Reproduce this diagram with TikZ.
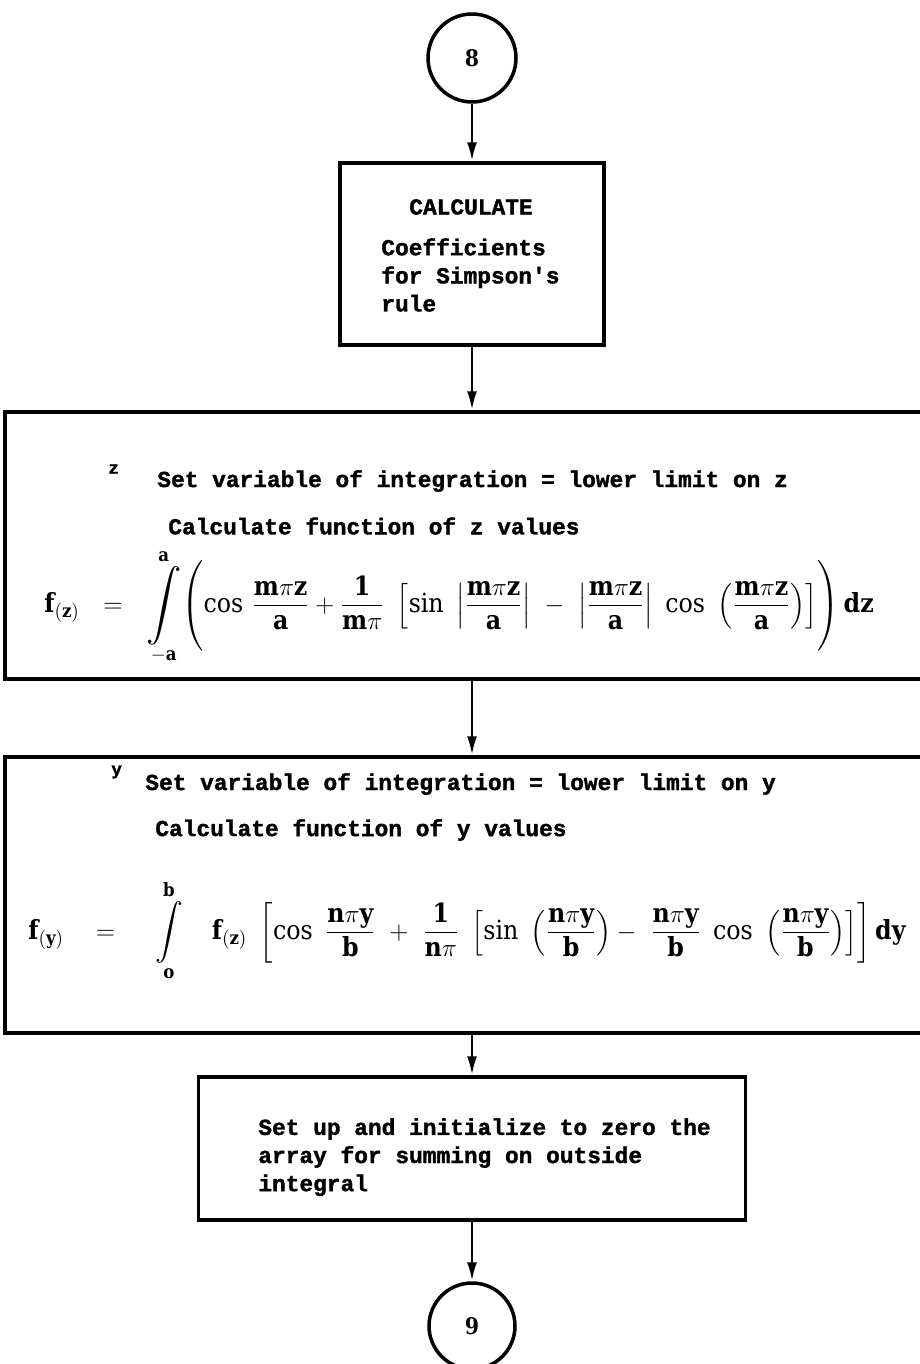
\documentclass[tikz,border=0pt]{standalone}
\usepackage{fontspec}
\usepackage{amsmath}
\usepackage{graphicx}
\setmainfont{DejaVu Serif Condensed}
\setmonofont{Liberation Mono}[BoldFeatures={FakeBold=1.5}]
\usetikzlibrary{arrows.meta,positioning}
\newcommand{\tallint}[1]{\mathop{\vcenter{\hbox{\scalebox{#1}{$\displaystyle\int$}}}}\limits}

\begin{document}
\begin{tikzpicture}[x=0.02cm,y=-0.02cm,
  box/.style={draw,line width=2pt,inner sep=0pt},
  connector/.style={draw,circle,line width=2pt,inner sep=0pt,font=\bfseries\fontsize{13}{15}\selectfont},
  flow/.style={-{Latex[length=3.8mm,width=2mm]},line width=1.6pt},
  typed/.style={anchor=west,inner sep=0pt,align=left,font=\ttfamily\bfseries\fontsize{13}{16}\selectfont},
  formula/.style={anchor=west,inner sep=0pt,font=\bfseries\fontsize{15}{18}\selectfont},
]
  \useasboundingbox (0,0) rectangle (919,1364);

  % Entry connector
  \node[connector,minimum size=1.76cm] (c8) at (472,58) {8};

  % Simpson coefficients
  \node[box,minimum width=5.28cm,minimum height=3.64cm] (calc) at (472,254) {};
  \node[typed,anchor=center] (calctitle) at (471,207) {CALCULATE};
  \node[typed,anchor=north west] (calctext) at (381,238) {Coefficients\\for Simpson's\\rule};

  % Inner integral over z
  \node[box,minimum width=18.68cm,minimum height=5.34cm] (zbox) at (472,545.5) {};
  \node[typed,font=\ttfamily\bfseries\fontsize{10}{12}\selectfont] (zmark) at (108,469) {z};
  \node[typed] (zset) at (157,481) {Set variable of integration = lower limit on z};
  \node[typed] (zcalc) at (168,526) {Calculate function of z values};
  \node[formula] (zint) at (44,607) {$\displaystyle\mathbf{f_{(z)}\ \ =\ \ \tallint{1.4}_{-a}^{a}\!\left(\vrule height 0.85cm depth 0.85cm width 0pt\cos\,\frac{m\pi z}{a}+\frac{1}{m\pi}\ \left[\sin\ \left|\frac{m\pi z}{a}\right|\ -\ \left|\frac{m\pi z}{a}\right|\ \cos\ \left(\frac{m\pi z}{a}\right)\right]\right)dz}$};

  % Outer integral over y
  \node[box,minimum width=18.68cm,minimum height=5.52cm] (ybox) at (472,895) {};
  \node[typed,font=\ttfamily\bfseries\fontsize{10}{12}\selectfont] (ymark) at (111,772) {y};
  \node[typed] (yset) at (145,784) {Set variable of integration = lower limit on y};
  \node[typed] (ycalc) at (155,830) {Calculate function of y values};
  \node[formula] (yint) at (28,931) {$\displaystyle\mathbf{f_{(y)}\ \ \ =\ \ \ \ \tallint{1.1}_{o}^{b}\ \ \ f_{(z)}\ \left[\cos\ \frac{n\pi y}{b}\ +\ \frac{1}{n\pi}\ \left[\sin\ \left(\frac{n\pi y}{b}\right)-\ \frac{n\pi y}{b}\ \cos\ \left(\frac{n\pi y}{b}\right)\right]\right]dy}$};

  % Summing array
  \node[box,minimum width=10.94cm,minimum height=2.86cm] (init) at (472,1148.5) {};
  \node[typed,anchor=north west] (inittext) at (258,1118) {Set up and initialize to zero the\\array for summing on outside\\integral};

  % Exit connector
  \node[connector,minimum size=1.72cm] (c9) at (472,1326) {9};

  % Arrows
  \draw[flow] (c8) -- (calc);
  \draw[flow] (calc) -- (zbox);
  \draw[flow] (zbox) -- (ybox);
  \draw[flow] (ybox) -- (init);
  \draw[flow] (init) -- (c9);
\end{tikzpicture}
\end{document}
